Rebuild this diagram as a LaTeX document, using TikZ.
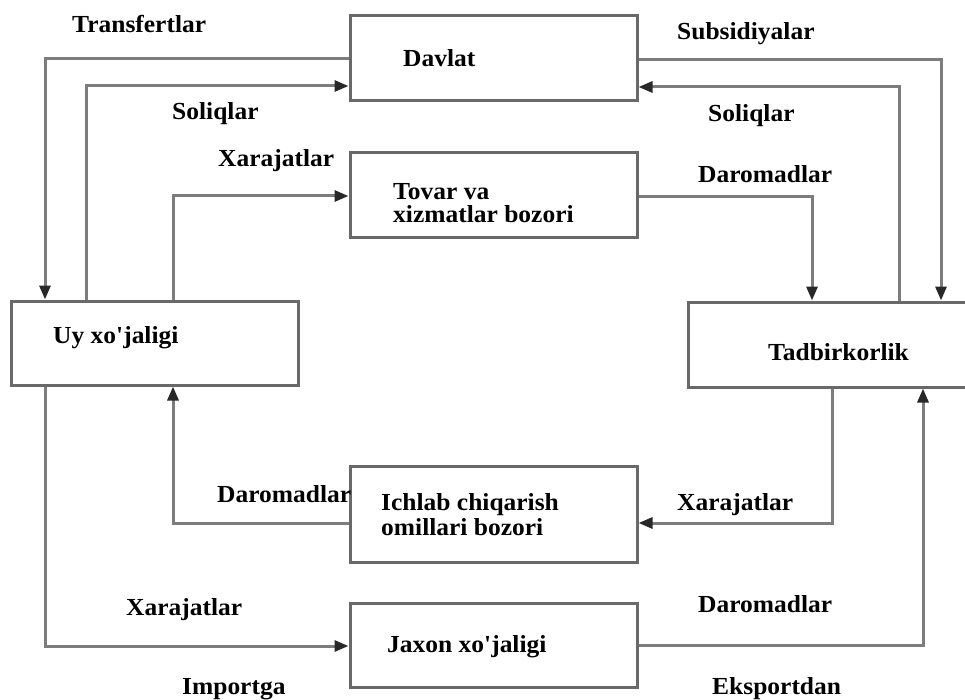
\documentclass[tikz,border=0pt]{standalone}
\usepackage{fontspec}
\newfontfamily\lfont{Liberation Serif}[FakeStretch=1.04]
\usetikzlibrary{arrows.meta}
\definecolor{linegray}{RGB}{125,125,125}
\definecolor{boxgray}{RGB}{105,105,105}
\definecolor{tipgray}{RGB}{40,40,40}
\begin{document}
\begin{tikzpicture}[x=1pt,y=-1pt,
  box/.style={draw=boxgray,line width=3pt,rectangle,minimum width=287pt,inner sep=0pt},
  flow/.style={draw=linegray,line width=3pt},
  arr/.style={flow,-{Triangle[length=14pt,width=11pt,fill=tipgray,color=tipgray]}},
  txt/.style={font=\lfont\fontsize{24.5}{26}\selectfont\bfseries,inner sep=0pt,anchor=base west,text=black}]
\clip (0,0) rectangle (965,700);
\fill[white] (0,0) rectangle (965,700);

% boxes
\node[box,minimum height=85pt] (davlat) at (493.5,58.5) {};
\node[box,minimum height=85pt] (tovar) at (493.5,195.5) {};
\node[box,minimum height=84pt] (uy) at (154.5,343) {};
\node[box,minimum height=85pt] (tad) at (831.5,344.5) {};
\node[box,minimum height=96pt] (ichlab) at (493.5,514) {};
\node[box,minimum height=84pt] (jaxon) at (493.5,645) {};

% box texts
\node[txt] (tDavlat) at (403,67) {Davlat};
\node[txt] (tTovar1) at (393,200) {Tovar va};
\node[txt] (tTovar2) at (393,223) {xizmatlar bozori};
\node[txt] (tUy) at (53,343) {Uy xo'jaligi};
\node[txt] (tTad) at (768,360) {Tadbirkorlik};
\node[txt] (tIch1) at (381,510) {Ichlab chiqarish};
\node[txt] (tIch2) at (381,535) {omillari bozori};
\node[txt] (tJax) at (387,652) {Jaxon xo'jaligi};

% connector corner points
\coordinate (tA) at (45,59);
\coordinate (sA) at (86,86);
\coordinate (xA) at (173,196);
\coordinate (subA) at (941,60);
\coordinate (solB) at (899,87);
\coordinate (dA) at (812,197);
\coordinate (xB) at (832,523);
\coordinate (dB) at (173,523);
\coordinate (iA) at (45,646);
\coordinate (eA) at (923,645);

% connectors
\draw[arr] (davlat.west |- tA) -- (tA) -- (tA |- uy.north);
\draw[arr] (sA |- uy.north) -- (sA) -- (davlat.west |- sA);
\draw[arr] (xA |- uy.north) -- (xA) -- (tovar.west |- xA);
\draw[arr] (davlat.east |- subA) -- (subA) -- (subA |- tad.north);
\draw[arr] (solB |- tad.north) -- (solB) -- (davlat.east |- solB);
\draw[arr] (tovar.east |- dA) -- (dA) -- (dA |- tad.north);
\draw[arr] (xB |- tad.south) -- (xB) -- (ichlab.east |- xB);
\draw[arr] (ichlab.west |- dB) -- (dB) -- (dB |- uy.south);
\draw[arr] (iA |- uy.south) -- (iA) -- (jaxon.west |- iA);
\draw[arr] (jaxon.east |- eA) -- (eA) -- (eA |- tad.south);

% connector labels
\node[txt] (lTransf) at (72,33) {Transfertlar};
\node[txt] (lSol1) at (172,120) {Soliqlar};
\node[txt] (lXar1) at (218,167) {Xarajatlar};
\node[txt] (lSubs) at (677,40) {Subsidiyalar};
\node[txt] (lSol2) at (708,122) {Soliqlar};
\node[txt] (lDar1) at (698,183) {Daromadlar};
\node[txt] (lDar2) at (217,502) {Daromadlar};
\node[txt] (lXar2) at (677,510) {Xarajatlar};
\node[txt] (lXar3) at (126,615) {Xarajatlar};
\node[txt] (lDar3) at (698,612) {Daromadlar};
\node[txt] (lImp) at (182,694) {Importga};
\node[txt] (lEks) at (712,694) {Eksportdan};
\end{tikzpicture}
\end{document}
